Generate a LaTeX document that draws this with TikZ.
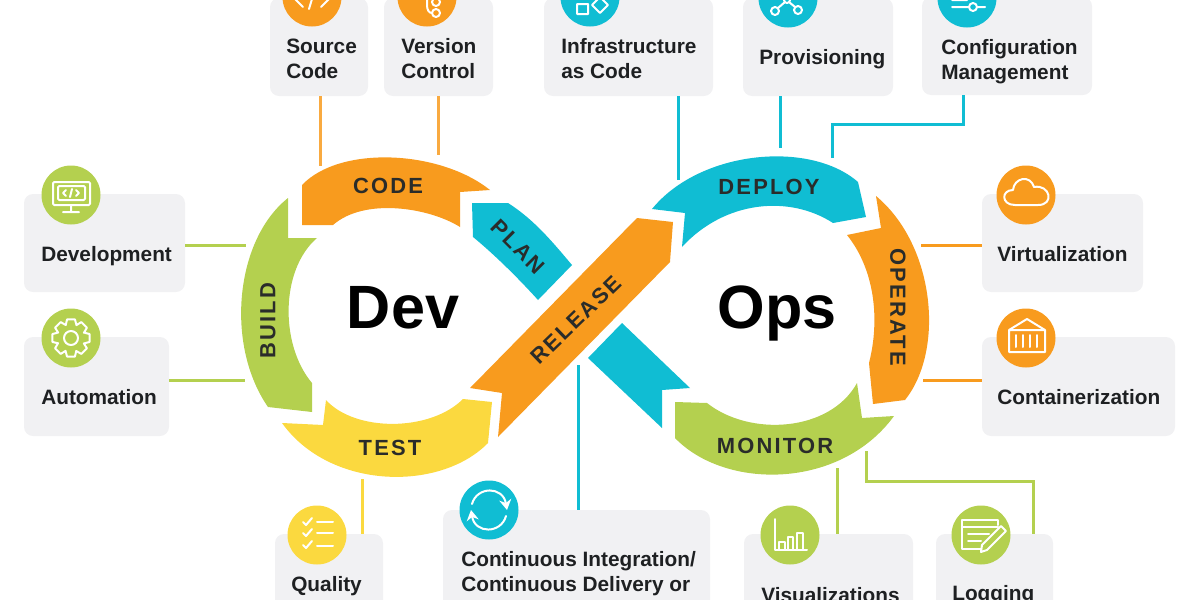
\documentclass[tikz,border=0pt]{standalone}
\usepackage{fontspec}
\setmainfont{Liberation Sans}
\newfontfamily\ringfont[LetterSpace=10]{Liberation Sans}
\usepackage{tikz}
\usetikzlibrary{arrows.meta}
\definecolor{ringorange}{HTML}{F89B1E}
\definecolor{ringgreen}{HTML}{B4D04F}
\definecolor{ringteal}{HTML}{10BDD3}
\definecolor{ringyellow}{HTML}{FBD93F}
\definecolor{cardgray}{HTML}{F1F1F3}
\definecolor{labelink}{HTML}{2A2C2A}
\definecolor{cardink}{HTML}{1E2022}
\def\px{0.25mm}

\begin{document}
\begin{tikzpicture}[x=0.25mm, y=-0.25mm,
    card/.style={fill=cardgray, rounded corners=2.25mm, inner sep=0pt},
    cardtext/.style={anchor=west, align=left, inner sep=0pt, text=cardink, font=\fontsize{14.8}{17.8}\bfseries\selectfont},
    icon/.style={circle, minimum size=59*\px, inner sep=0pt},
    glyph/.style={draw=white, line width=0.5mm, line join=round, line cap=round},
    link/.style={line width=0.75mm},
    ringlabel/.style={text=labelink, inner sep=0pt, font=\ringfont\fontsize{15.6}{18}\bfseries\selectfont},
    bigword/.style={anchor=base, inner sep=0pt, text=black, font=\fontsize{43.5}{50}\bfseries\selectfont}]

    \useasboundingbox (0,0) rectangle (1200,600);
    \clip (0,0) rectangle (1200,600);

    % cards
    \node[card, minimum width=98*\px, minimum height=98*\px] (srcbox) at (319,47) {};
    \node[card, minimum width=109*\px, minimum height=98*\px] (verbox) at (438.5,47) {};
    \node[card, minimum width=169*\px, minimum height=98*\px] (infbox) at (628.5,47) {};
    \node[card, minimum width=150*\px, minimum height=98*\px] (provbox) at (818,47) {};
    \node[card, minimum width=170*\px, minimum height=98*\px] (cfgbox) at (1007,46) {};
    \node[card, minimum width=161*\px, minimum height=98*\px] (devbox) at (104.5,243) {};
    \node[card, minimum width=145*\px, minimum height=99*\px] (autobox) at (96.5,386.5) {};
    \node[card, minimum width=161*\px, minimum height=98*\px] (virbox) at (1062.5,243) {};
    \node[card, minimum width=193*\px, minimum height=99*\px] (conbox) at (1078.5,386.5) {};
    \node[card, minimum width=108*\px, minimum height=100*\px] (qualbox) at (329,584) {};
    \node[card, minimum width=267*\px, minimum height=130*\px] (cibox) at (576.5,575) {};
    \node[card, minimum width=169*\px, minimum height=100*\px] (visbox) at (828.5,584) {};
    \node[card, minimum width=117*\px, minimum height=100*\px] (logbox) at (994.5,584) {};

    % card texts
    \node[cardtext] (srctext) at (286,58.5) {Source\\Code};
    \node[cardtext] (vertext) at (401,58.5) {Version\\Control};
    \node[cardtext] (inftext) at (561,58.5) {Infrastructure\\as Code};
    \node[cardtext] (provtext) at (759,59) {Provisioning};
    \node[cardtext] (cfgtext) at (941,61.5) {Configuration\\Management};
    \node[cardtext] (devtext) at (41,256) {Development};
    \node[cardtext] (autotext) at (41,397) {Automation};
    \node[cardtext] (virtext) at (997,254) {Virtualization};
    \node[cardtext] (context) at (997,397) {Containerization};
    \node[cardtext] (qualtext) at (291,586) {Quality};
    \node[cardtext] (citext) at (461,573.5) {Continuous Integration/\\Continuous Delivery or};
    \node[cardtext] (vistext) at (761,595) {Visualizations};
    \node[cardtext] (logtext) at (952,595) {Logging};

    % ring
    \fill[ringorange] (302,185) .. controls (340,145) and (440,150) .. (490,190) -- (460,192) -- (460,227)
        .. controls (430,208) and (365,197) .. (333,225) -- (302,225) -- cycle;
    \fill[ringteal] (472,203) -- (508,203) .. controls (535,220) and (555,245) .. (572,265) -- (538,300)
        .. controls (520,280) and (495,255) .. (473,237) -- cycle;
    \fill[ringgreen] (288,198) -- (288,238) -- (317,238) .. controls (280,270) and (280,345) .. (312,383)
        -- (312,412) -- (268,407) .. controls (225,345) and (235,240) .. (288,198) -- cycle;
    \fill[ringyellow] (282,423) -- (323,425) -- (326,400) .. controls (355,432) and (430,432) .. (463,399)
        -- (492,402) -- (488,443) .. controls (440,492) and (330,490) .. (282,423) -- cycle;
    \fill[ringteal] (622,323) -- (690,388) -- (662,390) -- (662,428) -- (588,358) -- cycle;
    \fill[ringteal] (652,209) .. controls (700,150) and (810,140) .. (858,182) -- (866,217) -- (833,223)
        .. controls (790,195) and (725,200) .. (682,247) -- (685,213) -- cycle;
    \fill[ringorange] (876,196) .. controls (935,245) and (945,350) .. (905,400) -- (873,404) -- (869,363)
        .. controls (880,320) and (875,270) .. (847,235) -- (881,228) -- cycle;
    \fill[ringgreen] (894,416) -- (862,418) -- (857,383) .. controls (830,432) and (750,437) .. (707,403)
        -- (675,402) -- (675,438) .. controls (725,490) and (840,490) .. (894,416) -- cycle;
    \fill[ringorange] (470,388) -- (637,218) -- (673,222) -- (670,262) -- (498,437) -- (502,393) -- cycle;

    % ring labels
    \node[ringlabel] (codelabel) at (388,186) {CODE};
    \node[ringlabel, rotate=-45] (planlabel) at (518,247) {PLAN};
    \node[ringlabel, rotate=90] (buildlabel) at (268,321) {BUILD};
    \node[ringlabel] (testlabel) at (390,448) {TEST};
    \node[ringlabel, rotate=44] (releaselabel) at (576,320) {RELEASE};
    \node[ringlabel] (deploylabel) at (769,187) {DEPLOY};
    \node[ringlabel, rotate=-90] (operatelabel) at (898,307) {OPERATE};
    \node[ringlabel] (monitorlabel) at (775,446) {MONITOR};
    \node[bigword] (devword) at (403,328) {Dev};
    \node[bigword] (opsword) at (777,328) {Ops};

    % connector ends on the ring
    \coordinate (srcend) at (320,166);
    \coordinate (verend) at (438,155);
    \coordinate (infend) at (678,180);
    \coordinate (provend) at (780,148);
    \coordinate (cfgend) at (832,158);
    \coordinate (cfgbend) at (963,124);
    \coordinate (devend) at (246,245);
    \coordinate (autoend) at (245,380);
    \coordinate (virend) at (921,245);
    \coordinate (conend) at (923,380);
    \coordinate (qualend) at (362,479);
    \coordinate (ciend) at (578,365);
    \coordinate (visend) at (837,468);
    \coordinate (logend) at (866,451);
    \coordinate (logbend) at (1033,481);

    \draw[link, ringorange!85!white] (srcbox.south -| srcend) -- (srcend);
    \draw[link, ringorange!85!white] (verbox.south -| verend) -- (verend);
    \draw[link, ringteal] (infbox.south -| infend) -- (infend);
    \draw[link, ringteal] (provbox.south -| provend) -- (provend);
    \draw[link, ringteal] (cfgbox.south -| cfgbend) -- (cfgbend) -- (cfgbend -| cfgend) -- (cfgend);
    \draw[link, ringgreen] (devbox.east |- devend) -- (devend);
    \draw[link, ringgreen] (autobox.east |- autoend) -- (autoend);
    \draw[link, ringorange] (virbox.west |- virend) -- (virend);
    \draw[link, ringorange] (conbox.west |- conend) -- (conend);
    \draw[link, ringyellow] (qualbox.north -| qualend) -- (qualend);
    \draw[link, ringteal] (cibox.north -| ciend) -- (ciend);
    \draw[link, ringgreen] (visbox.north -| visend) -- (visend);
    \draw[link, ringgreen] (logbox.north -| logbend) -- (logbend) -- (logbend -| logend) -- (logend);

    % icons
    \node[icon, fill=ringorange] (srcicon) at (312,-3) {};
    \draw[glyph, shift={(312,-3)}] (-9,-6) -- (-17,2) -- (-9,10) (9,-6) -- (17,2) -- (9,10) (3,-8) -- (-3,12);

    \node[icon, fill=ringorange] (vericon) at (427,-3) {};
    \draw[glyph, shift={(427,-3)}] (0,-5) -- (0,8) .. controls (0,13) and (2,16) .. (5,16);
    \draw[glyph, shift={(427,-3)}] (9,16) circle[radius=4] (9,5) circle[radius=4];

    \node[icon, fill=ringteal] (inficon) at (590,-3) {};
    \draw[glyph, shift={(590,-3)}] (-13,7) rectangle (-2,17) (10,0) -- (18,8) -- (10,16) -- (2,8) -- cycle;

    \node[icon, fill=ringteal] (provicon) at (788,-2) {};
    \draw[glyph, shift={(788,-2)}] (-13,13) circle[radius=4] (10,12) circle[radius=4] (-1,2) circle[radius=3];
    \draw[glyph, shift={(788,-2)}] (-3,4) -- (-10,10) (1,4) -- (7,9);

    \node[icon, fill=ringteal] (cfgicon) at (967,-2) {};
    \draw[glyph, shift={(967,-2)}] (-15,9) -- (2,9) (10,9) -- (18,9) (6,9) circle[radius=4] (-15,2) -- (0,2);

    \node[icon, fill=ringgreen] (devicon) at (71,195) {};
    \draw[glyph, shift={(71,195)}, rounded corners=0.3mm] (-18,-13) rectangle (19,10) (-13,-9) rectangle (14,5);
    \draw[glyph, shift={(71,195)}] (0,10) -- (0,16) (-8,17) -- (8,17) (-5,-5) -- (-8,-2) -- (-5,1) (5,-5) -- (8,-2) -- (5,1) (1,-6) -- (-1,2);

    \node[icon, fill=ringgreen] (autoicon) at (71,338) {};
    \draw[glyph, shift={(71,338)}] (-23:14) \foreach \a in {0,45,...,315} { -- (\a-12:19) -- (\a+12:19) -- (\a+23:14)} -- cycle;
    \draw[glyph, shift={(71,338)}] (0,0) circle[radius=7];

    \node[icon, fill=ringorange] (viricon) at (1026,195) {};
    \draw[glyph, shift={(1026,195)}] (-11,10) .. controls (-25,10) and (-25,-5) .. (-13,-5)
        .. controls (-12,-17) and (4,-21) .. (8,-8) .. controls (24,-11) and (29,10) .. (12,10) -- cycle;

    \node[icon, fill=ringorange] (conicon) at (1026,338) {};
    \draw[glyph, shift={(1026,338)}] (-17,-8) rectangle (19,14) (-17,-8) -- (1,-19) -- (19,-8);
    \draw[glyph, shift={(1026,338)}] (-10,-3) -- (-10,9) (-3,-3) -- (-3,9) (4,-3) -- (4,9) (11,-3) -- (11,9);

    \node[icon, fill=ringyellow] (qualicon) at (317,535) {};
    \draw[glyph, shift={(317,535)}] (-14,-13) -- (-11,-10) -- (-5,-17) (-14,-2) -- (-11,1) -- (-5,-6) (-14,10) -- (-11,13) -- (-5,6);
    \draw[glyph, shift={(317,535)}] (0,-13) -- (16,-13) (0,-2) -- (16,-2) (0,11) -- (16,11);

    \node[icon, fill=ringteal] (ciicon) at (489,510) {};
    \draw[glyph, shift={(489,510)}, -{Stealth[length=2.6mm, width=3mm]}] (-17,-6) .. controls (-12,-24) and (14,-24) .. (18,0);
    \draw[glyph, shift={(489,510)}, -{Stealth[length=2.6mm, width=3mm]}] (17,6) .. controls (12,24) and (-14,24) .. (-18,0);

    \node[icon, fill=ringgreen] (visicon) at (790,535) {};
    \draw[glyph, shift={(790,535)}] (-15,-16) -- (-15,15) -- (17,15) (-11,15) rectangle (-5,7) (-2,15) rectangle (3,2) (7,15) rectangle (13,-2);

    \node[icon, fill=ringgreen] (logicon) at (981,535) {};
    \draw[glyph, shift={(981,535)}] (17,-10) -- (17,-15) -- (-19,-15) -- (-19,14) -- (0,14);
    \draw[glyph, shift={(981,535)}] (-19,-8) -- (17,-8) (-13,-1) -- (8,-1) (-13,6) -- (0,6);
    \draw[glyph, shift={(981,535)}] (20,-9) -- (25,-4) -- (6,15) -- (0,17) -- (1,10) -- cycle;

\end{tikzpicture}
\end{document}
